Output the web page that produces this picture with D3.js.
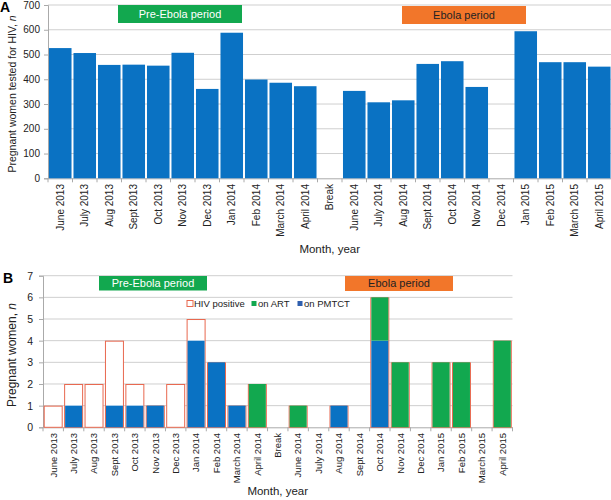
<!DOCTYPE html>
<html><head><meta charset="utf-8">
<script src="https://cdn.jsdelivr.net/npm/d3@7"></script>
<style>
body{margin:0;background:#fff;}
svg{font-family:"Liberation Sans",Arial,Helvetica,sans-serif;}
</style></head>
<body><svg id="c" width="611" height="500"></svg>
<script>
const categories = ["June 2013","July 2013","Aug 2013","Sept 2013","Oct 2013","Nov 2013","Dec 2013","Jan 2014","Feb 2014","March 2014","April 2014","Break","June 2014","July 2014","Aug 2014","Sept 2014","Oct 2014","Nov 2014","Dec 2014","Jan 2015","Feb 2015","March 2015","April 2015"];
const tested = [526,506,458,459,455,507,361,588,399,386,372,null,353,307,315,462,473,369,null,594,469,469,451];
const hivPositive = [1,2,2,4,2,1,2,5,3,1,2,0,1,0,1,0,6,3,0,3,3,0,4];
const onPMTCT = [0,1,0,1,1,1,0,4,3,1,0,0,0,0,1,0,4,0,0,0,0,0,0];
const onART = [0,0,0,0,0,0,0,0,0,0,2,0,1,0,0,0,2,3,0,3,3,0,4];
const ticksA = [0,100,200,300,400,500,600,700];
const ticksB = [0,1,2,3,4,5,6,7];
const legendLabels = ["HIV positive","on ART","on PMTCT"];

const BLUE="#0a72c3", GREEN="#12a84f", ORANGE="#f2762a", SALMON="#e8684f", GRID="#cfcfcf", TXT="#222";
const svg = d3.select("#c");

function drawPanel(o){
  const g = svg.append("g");
  const x = d3.scaleBand().domain(categories).range([o.x0,o.x1]).paddingInner(o.pad).paddingOuter(o.pad/2);
  const y = d3.scaleLinear().domain([0,o.ymax]).range([o.y0,o.y1]);
  g.selectAll(".grid").data(o.ticks.slice(1)).join("line")
    .attr("x1",o.x0).attr("x2",o.x1).attr("y1",d=>y(d)).attr("y2",d=>y(d))
    .attr("stroke",GRID).attr("stroke-width",1);
  const ya = g.append("g").attr("transform",`translate(${o.x0},0)`)
    .call(d3.axisLeft(y).tickValues(o.ticks).tickFormat(d3.format("d")).tickSize(4).tickPadding(o.tpad));
  ya.select(".domain").attr("stroke","#aaa");
  ya.selectAll(".tick line").attr("stroke","#aaa");
  ya.selectAll("text").attr("font-size",o.tickSize).attr("fill",TXT).style("font-family","inherit");
  const xa = g.append("g").attr("transform",`translate(0,${o.y0})`)
    .call(d3.axisBottom(x).tickSize(0).tickPadding(0));
  xa.select(".domain").attr("stroke","#aaa");
  xa.selectAll("text").attr("font-size",o.xlblSize).attr("fill",TXT).style("font-family","inherit")
    .attr("text-anchor","end").attr("dy","0.35em")
    .attr("transform",`translate(0,${o.lblTop-o.y0}) rotate(-90)`);
  g.selectAll(".bt").data(d3.range(categories.length+1)).join("line")
    .attr("x1",i=>o.x0+i*x.step()).attr("x2",i=>o.x0+i*x.step())
    .attr("y1",o.y0).attr("y2",o.y0+4).attr("stroke","#aaa");
  g.append("text").attr("x",(o.x0+o.x1)/2).attr("y",o.xtY).attr("text-anchor","middle")
    .attr("font-size",11.5).attr("fill",TXT).text("Month, year");
  const yt = g.append("text").attr("transform",`translate(${o.ytX},${o.ytY}) rotate(-90)`)
    .attr("text-anchor","middle").attr("font-size",o.ytSize).attr("fill",TXT);
  yt.append("tspan").text(o.ytitle);
  yt.append("tspan").attr("font-style","italic").text("n");
  g.append("text").attr("x",o.letX).attr("y",o.letY).attr("font-size",14).attr("font-weight","bold").attr("fill","#000").text(o.letter);
  [[o.pre,GREEN,"#fff","Pre-Ebola period"],[o.ebo,ORANGE,"#222","Ebola period"]].forEach(([b,c,tc,t])=>{
    g.append("rect").attr("x",b[0]).attr("y",b[1]).attr("width",b[2]-b[0]).attr("height",b[3]-b[1]).attr("fill",c);
    g.append("text").attr("x",(b[0]+b[2])/2).attr("y",(b[1]+b[3])/2).attr("dy","0.36em")
      .attr("text-anchor","middle").attr("font-size",11).attr("fill",tc).text(t);
  });
  return {g,x,y};
}

const A = drawPanel({x0:48,x1:611.5,y0:178.3,y1:5,ymax:700,pad:0.08,ticks:ticksA,tpad:4,tickSize:10,xlblSize:10,
  lblTop:184,xtY:253,ytX:16,ytY:94,ytSize:10.5,ytitle:"Pregnant women tested for HIV, ",letter:"A",letX:0,letY:12,
  pre:[118,5,242,23],ebo:[402,6,526,24]});
A.g.selectAll(".bar").data(categories.map((c,i)=>({c,v:tested[i]})).filter(d=>d.v!=null)).join("rect")
  .attr("x",d=>A.x(d.c)).attr("width",A.x.bandwidth()).attr("y",d=>A.y(d.v))
  .attr("height",d=>A.y(0)-A.y(d.v)).attr("fill",BLUE);

const B = drawPanel({x0:43,x1:512.5,y0:427.3,y1:275.7,ymax:7,pad:0.07,ticks:ticksB,tpad:6,tickSize:10.5,xlblSize:9.5,
  lblTop:433,xtY:495,ytX:16,ytY:355,ytSize:12,ytitle:"Pregnant women, ",letter:"B",letX:3,letY:283,
  pre:[99,276,207,290.5],ebo:[345,276,453,291]});
const dB = categories.map((c,i)=>({c,h:hivPositive[i],p:onPMTCT[i],a:onART[i]}));
B.g.selectAll(".hiv").data(dB.filter(d=>d.h>0)).join("rect")
  .attr("x",d=>B.x(d.c)+0.5).attr("width",B.x.bandwidth()-1).attr("y",d=>B.y(d.h)+0.5)
  .attr("height",d=>B.y(0)-B.y(d.h)-0.5).attr("fill","#fff").attr("stroke",SALMON).attr("stroke-width",1);
B.g.selectAll(".pm").data(dB.filter(d=>d.p>0)).join("rect")
  .attr("x",d=>B.x(d.c)+1).attr("width",B.x.bandwidth()-2).attr("y",d=>B.y(d.p))
  .attr("height",d=>B.y(0)-B.y(d.p)).attr("fill",BLUE);
B.g.selectAll(".art").data(dB.filter(d=>d.a>0)).join("rect")
  .attr("x",d=>B.x(d.c)+1).attr("width",B.x.bandwidth()-2).attr("y",d=>B.y(d.p+d.a))
  .attr("height",d=>B.y(d.p)-B.y(d.p+d.a)).attr("fill",GREEN);
const lx=[186.5,250.5,296.5], ly=304;
legendLabels.forEach((t,i)=>{
  if(i===0) B.g.append("rect").attr("x",lx[i]+0.5).attr("y",ly-3.5).attr("width",6).attr("height",6).attr("fill","#fff").attr("stroke",SALMON);
  else B.g.append("rect").attr("x",lx[i]+1).attr("y",ly-3).attr("width",5).attr("height",5).attr("fill",i===1?GREEN:"#2f5fae");
  B.g.append("text").attr("x",lx[i]+7.5).attr("y",ly).attr("dy","0.35em").attr("font-size",9.5).attr("fill",TXT).text(t);
});
</script></body></html>
